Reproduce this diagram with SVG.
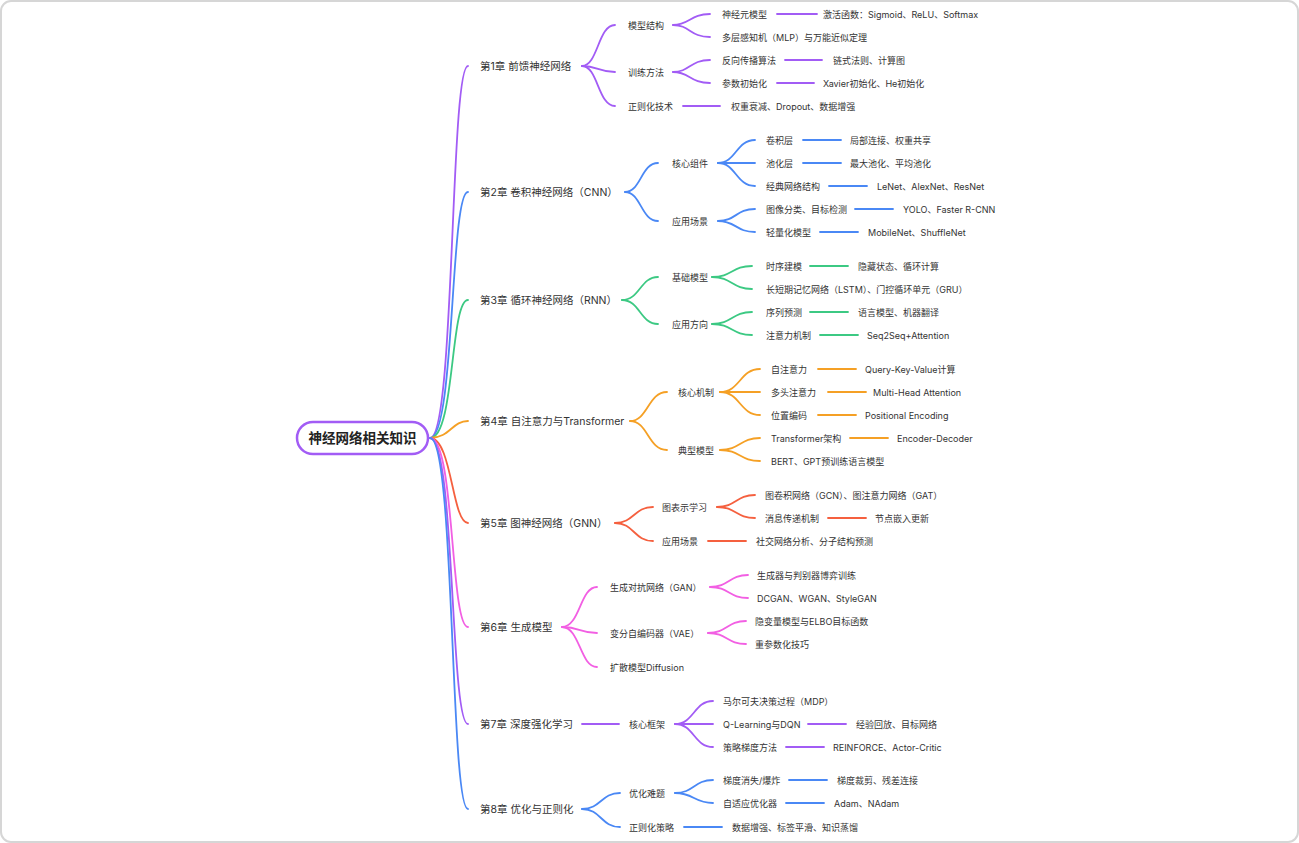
<svg xmlns="http://www.w3.org/2000/svg" width="1299" height="843" viewBox="0 0 1299 843">
<style>
text{font-family:"Inter","Noto Sans CJK SC",sans-serif;fill:#333;dominant-baseline:central}
.s{font-size:9px}
.c{font-size:10.5px}
path{fill:none;stroke-width:1.8;stroke-linecap:round}
.p{stroke:#a25cf5}.b{stroke:#4a88f5}.g{stroke:#3cc983}.o{stroke:#f5a025}.r{stroke:#f5603f}.k{stroke:#f25fe3}
</style>
<rect x="1" y="1" width="1297" height="841" rx="10" fill="#fff" stroke="#d6d6d6" stroke-width="2"/>
<g id="connectors">
<path class="p" d="M430 438 C455 438 450 66 468 66"/>
<path class="b" d="M430 438 C455 438 450 192 468 192"/>
<path class="g" d="M430 438 C455 438 450 300 468 300"/>
<path class="o" d="M430 438 C450 438 452 421 468 421"/>
<path class="r" d="M430 438 C452 438 452 523 468 523"/>
<path class="k" d="M430 438 C455 438 450 627 468 627"/>
<path class="p" d="M430 438 C455 438 450 724 468 724"/>
<path class="b" d="M430 438 C455 438 450 809 468 809"/>
<!-- ch1 -->
<path class="p" d="M582 66 C598 66 598 25 615 25"/>
<path class="p" d="M582 66 C598 66 598 72 615 72"/>
<path class="p" d="M582 66 C598 66 598 106 615 106"/>
<path class="p" d="M673 25 C690 25 690 14 710 14"/>
<path class="p" d="M673 25 C690 25 690 37 710 37"/>
<path class="p" d="M673 72 C690 72 690 60 710 60"/>
<path class="p" d="M673 72 C690 72 690 83 710 83"/>
<path class="p" d="M777 14 H817"/><path class="p" d="M785 60 H822"/><path class="p" d="M777 83 H814"/><path class="p" d="M683 106 H720"/>
<!-- ch2 -->
<path class="b" d="M625 192 C641 192 641 163 658 163"/>
<path class="b" d="M625 192 C641 192 641 221 658 221"/>
<path class="b" d="M718 163 C736 163 736 140 755 140"/>
<path class="b" d="M718 163 H755"/>
<path class="b" d="M718 163 C736 163 736 186 755 186"/>
<path class="b" d="M718 221 C736 221 736 209 755 209"/>
<path class="b" d="M718 221 C736 221 736 232 755 232"/>
<path class="b" d="M803 140 H841"/><path class="b" d="M803 163 H841"/><path class="b" d="M829 186 H867"/><path class="b" d="M855 209 H893"/><path class="b" d="M820 232 H858"/>
<!-- ch3 -->
<path class="g" d="M622 300 C640 300 640 277 658 277"/>
<path class="g" d="M622 300 C640 300 640 324 658 324"/>
<path class="g" d="M712 277 C732 277 732 266 752 266"/>
<path class="g" d="M712 277 C732 277 732 289 752 289"/>
<path class="g" d="M712 324 C732 324 732 312 752 312"/>
<path class="g" d="M712 324 C732 324 732 335 752 335"/>
<path class="g" d="M810 266 H848"/><path class="g" d="M810 312 H848"/><path class="g" d="M820 335 H858"/>
<!-- ch4 -->
<path class="o" d="M630 421 C648 421 648 392 667 392"/>
<path class="o" d="M630 421 C648 421 648 450 667 450"/>
<path class="o" d="M720 392 C740 392 740 369 760 369"/>
<path class="o" d="M720 392 H760"/>
<path class="o" d="M720 392 C740 392 740 415 760 415"/>
<path class="o" d="M720 450 C740 450 740 438 760 438"/>
<path class="o" d="M720 450 C740 450 740 461 760 461"/>
<path class="o" d="M818 369 H856"/><path class="o" d="M828 392 H866"/><path class="o" d="M818 415 H856"/><path class="o" d="M850 438 H888"/>
<!-- ch5 -->
<path class="r" d="M615 523 C634 523 634 507 653 507"/>
<path class="r" d="M615 523 C634 523 634 541 653 541"/>
<path class="r" d="M717 507 C736 507 736 495 755 495"/>
<path class="r" d="M717 507 C736 507 736 518 755 518"/>
<path class="r" d="M708 541 H746"/><path class="r" d="M828 518 H866"/>
<!-- ch6 -->
<path class="k" d="M562 627 C580 627 580 587 597 587"/>
<path class="k" d="M562 627 C580 627 580 633 597 633"/>
<path class="k" d="M562 627 C580 627 580 667 597 667"/>
<path class="k" d="M710 587 C729 587 729 575 748 575"/>
<path class="k" d="M710 587 C729 587 729 598 748 598"/>
<path class="k" d="M708 633 C727 633 727 621 746 621"/>
<path class="k" d="M708 633 C727 633 727 644 746 644"/>
<!-- ch7 -->
<path class="p" d="M582 724 H619"/>
<path class="p" d="M675 724 C694 724 694 701 713 701"/>
<path class="p" d="M675 724 H713"/>
<path class="p" d="M675 724 C694 724 694 747 713 747"/>
<path class="p" d="M808 724 H846"/><path class="p" d="M786 747 H824"/>
<!-- ch8 -->
<path class="b" d="M582 809 C601 809 601 793 620 793"/>
<path class="b" d="M582 809 C601 809 601 827 620 827"/>
<path class="b" d="M675 793 C694 793 694 780 713 780"/>
<path class="b" d="M675 793 C694 793 694 803 713 803"/>
<path class="b" d="M789 780 H827"/><path class="b" d="M786 803 H824"/><path class="b" d="M684 827 H722"/>
</g>
<g id="root"><rect x="297" y="422" width="131" height="32" rx="16" fill="#fff" stroke="#a25cf5" stroke-width="2.5"/><text x="362.5" y="438" text-anchor="middle" style="font-size:13.5px;font-weight:bold;fill:#222">神经网络相关知识</text></g>
<g id="ch1"><text class="c" x="480" y="66">第1章 前馈神经网络</text>
<text class="s" x="628" y="25">模型结构</text><text class="s" x="628" y="72">训练方法</text><text class="s" x="628" y="106">正则化技术</text>
<text class="s" x="722" y="14">神经元模型</text><text class="s" x="823" y="14">激活函数：Sigmoid、ReLU、Softmax</text>
<text class="s" x="722" y="37">多层感知机（MLP）与万能近似定理</text>
<text class="s" x="722" y="60">反向传播算法</text><text class="s" x="833" y="60">链式法则、计算图</text>
<text class="s" x="722" y="83">参数初始化</text><text class="s" x="823" y="83">Xavier初始化、He初始化</text>
<text class="s" x="731" y="106">权重衰减、Dropout、数据增强</text></g>
<g id="ch2"><text class="c" x="480" y="192">第2章 卷积神经网络（CNN）</text>
<text class="s" x="672" y="163">核心组件</text><text class="s" x="672" y="221">应用场景</text>
<text class="s" x="766" y="140">卷积层</text><text class="s" x="850" y="140">局部连接、权重共享</text>
<text class="s" x="766" y="163">池化层</text><text class="s" x="850" y="163">最大池化、平均池化</text>
<text class="s" x="766" y="186">经典网络结构</text><text class="s" x="877" y="186">LeNet、AlexNet、ResNet</text>
<text class="s" x="766" y="209">图像分类、目标检测</text><text class="s" x="903" y="209">YOLO、Faster R-CNN</text>
<text class="s" x="766" y="232">轻量化模型</text><text class="s" x="868" y="232">MobileNet、ShuffleNet</text></g>
<g id="ch3"><text class="c" x="480" y="300">第3章 循环神经网络（RNN）</text>
<text class="s" x="672" y="277">基础模型</text><text class="s" x="672" y="324">应用方向</text>
<text class="s" x="766" y="266">时序建模</text><text class="s" x="858" y="266">隐藏状态、循环计算</text>
<text class="s" x="766" y="289">长短期记忆网络（LSTM）、门控循环单元（GRU）</text>
<text class="s" x="766" y="312">序列预测</text><text class="s" x="858" y="312">语言模型、机器翻译</text>
<text class="s" x="766" y="335">注意力机制</text><text class="s" x="867" y="335">Seq2Seq+Attention</text></g>
<g id="ch4"><text class="c" x="480" y="421">第4章 自注意力与Transformer</text>
<text class="s" x="678" y="392">核心机制</text><text class="s" x="678" y="450">典型模型</text>
<text class="s" x="771" y="369">自注意力</text><text class="s" x="865" y="369">Query-Key-Value计算</text>
<text class="s" x="771" y="392">多头注意力</text><text class="s" x="873" y="392">Multi-Head Attention</text>
<text class="s" x="771" y="415">位置编码</text><text class="s" x="865" y="415">Positional Encoding</text>
<text class="s" x="771" y="438">Transformer架构</text><text class="s" x="897" y="438">Encoder-Decoder</text>
<text class="s" x="771" y="461">BERT、GPT预训练语言模型</text></g>
<g id="ch5"><text class="c" x="480" y="523">第5章 图神经网络（GNN）</text>
<text class="s" x="662" y="507">图表示学习</text><text class="s" x="662" y="541">应用场景</text>
<text class="s" x="765" y="495">图卷积网络（GCN）、图注意力网络（GAT）</text>
<text class="s" x="765" y="518">消息传递机制</text><text class="s" x="875" y="518">节点嵌入更新</text>
<text class="s" x="756" y="541">社交网络分析、分子结构预测</text></g>
<g id="ch6"><text class="c" x="480" y="627">第6章 生成模型</text>
<text class="s" x="610" y="587">生成对抗网络（GAN）</text><text class="s" x="610" y="633">变分自编码器（VAE）</text><text class="s" x="610" y="667">扩散模型Diffusion</text>
<text class="s" x="757" y="575">生成器与判别器博弈训练</text><text class="s" x="757" y="598">DCGAN、WGAN、StyleGAN</text>
<text class="s" x="755" y="621">隐变量模型与ELBO目标函数</text><text class="s" x="755" y="644">重参数化技巧</text></g>
<g id="ch7"><text class="c" x="480" y="724">第7章 深度强化学习</text>
<text class="s" x="629" y="724">核心框架</text>
<text class="s" x="723" y="701">马尔可夫决策过程（MDP）</text>
<text class="s" x="723" y="724">Q-Learning与DQN</text><text class="s" x="856" y="724">经验回放、目标网络</text>
<text class="s" x="723" y="747">策略梯度方法</text><text class="s" x="833" y="747">REINFORCE、Actor-Critic</text></g>
<g id="ch8"><text class="c" x="480" y="809">第8章 优化与正则化</text>
<text class="s" x="629" y="793">优化难题</text><text class="s" x="629" y="827">正则化策略</text>
<text class="s" x="723" y="780">梯度消失/爆炸</text><text class="s" x="837" y="780">梯度裁剪、残差连接</text>
<text class="s" x="723" y="803">自适应优化器</text><text class="s" x="834" y="803">Adam、NAdam</text>
<text class="s" x="732" y="827">数据增强、标签平滑、知识蒸馏</text></g>
</svg>
